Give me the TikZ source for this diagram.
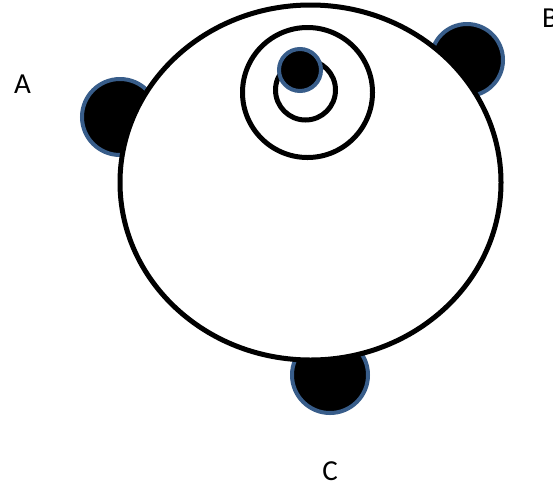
\documentclass[tikz,border=0pt]{standalone}
\usepackage{fontspec}
\setmainfont{Carlito}
\definecolor{rim}{HTML}{385D8A}
\begin{document}
\begin{tikzpicture}[x=1pt,y=-1pt,
  blob/.style={fill=black,draw=rim,line width=4pt},
  ring/.style={draw=black,line width=5pt},
  lbl/.style={font=\fontsize{29}{33}\selectfont,inner sep=0pt}]
\useasboundingbox (0,0) rectangle (553,491);
\fill[white] (0,0) rectangle (553,491);
\draw[blob] (120,117) circle[radius=38];
\draw[blob] (467,60) circle[radius=36];
\draw[blob] (330,375) circle[radius=38];
\draw[ring,fill=white] (310.5,182.5) ellipse[x radius=190.5,y radius=177.5];
\draw[ring] (307.5,92.5) circle[radius=65];
\draw[ring] (305.5,90) circle[radius=30];
\draw[blob] (300,70) circle[radius=21];
\node[lbl] (A) at (22.5,84.5) {A};
\node[lbl,anchor=west] (B) at (542,18) {B};
\node[lbl] (C) at (330,471) {C};
\end{tikzpicture}
\end{document}
